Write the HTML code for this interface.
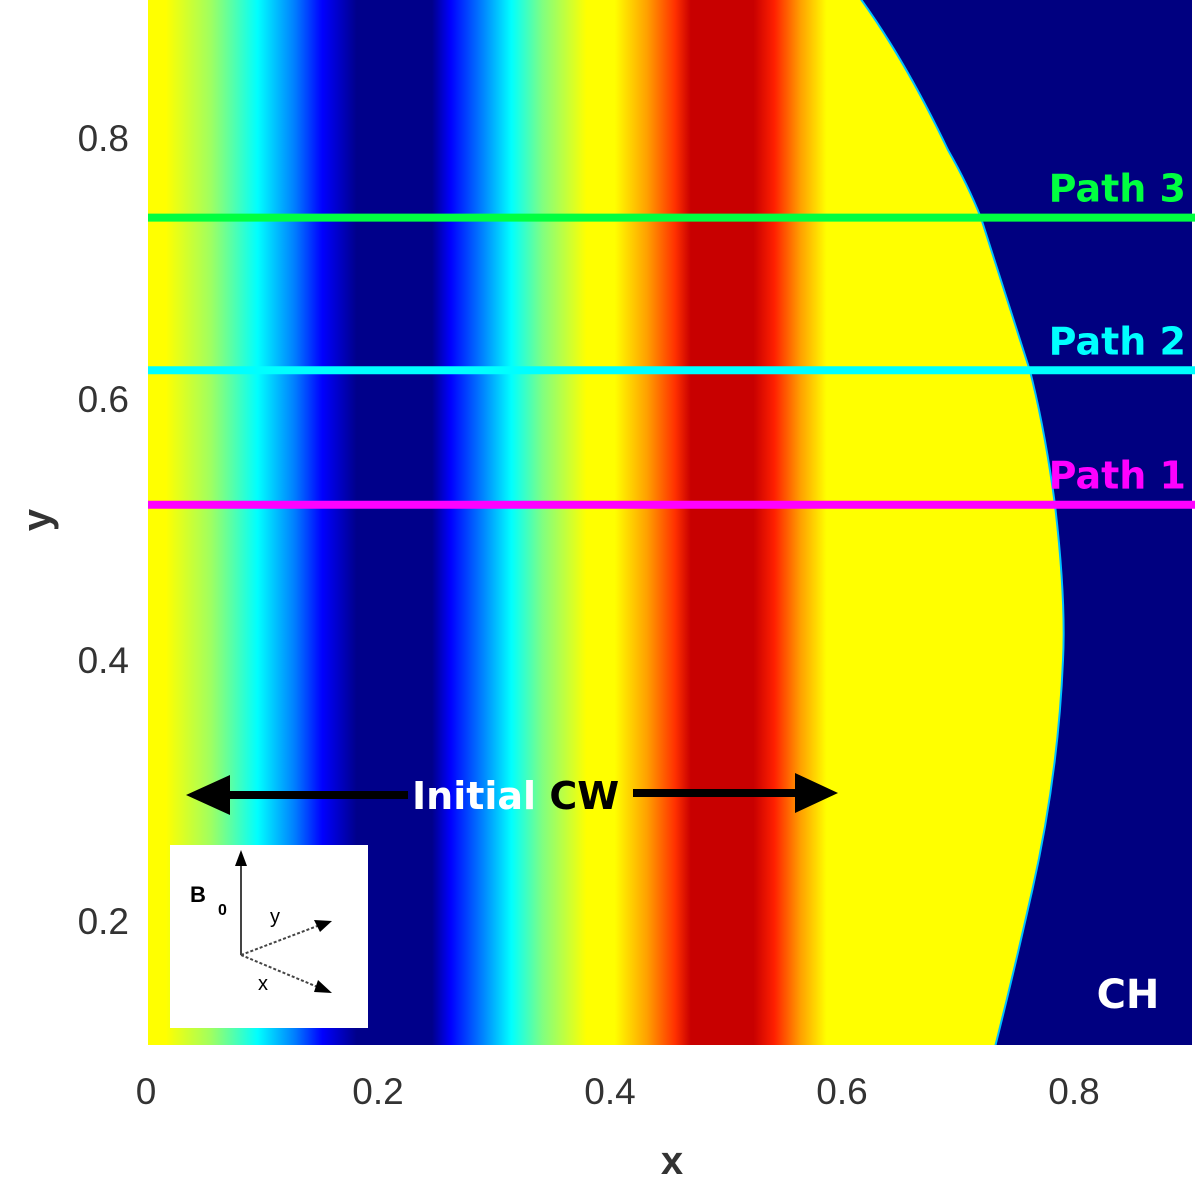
<!DOCTYPE html>
<html><head><meta charset="utf-8"><style>
html,body{margin:0;padding:0;background:#fff;}
svg{display:block;font-family:"Liberation Sans",sans-serif;}
</style></head><body>
<svg id="chart" width="1200" height="1179" viewBox="0 0 1200 1179">
<defs>
<linearGradient id="cw" gradientUnits="userSpaceOnUse" x1="148" y1="0" x2="1192" y2="0">
<stop offset="0" stop-color="#ffff00"/>
<stop offset="0.017" stop-color="#ffff00"/>
<stop offset="0.06" stop-color="#a0ff60"/>
<stop offset="0.105" stop-color="#00ffff"/>
<stop offset="0.14" stop-color="#0080ff"/>
<stop offset="0.167" stop-color="#0000ff"/>
<stop offset="0.2" stop-color="#00008a"/>
<stop offset="0.272" stop-color="#00008a"/>
<stop offset="0.29" stop-color="#0000ff"/>
<stop offset="0.32" stop-color="#0080ff"/>
<stop offset="0.348" stop-color="#00ffff"/>
<stop offset="0.378" stop-color="#80ff80"/>
<stop offset="0.42" stop-color="#ffff00"/>
<stop offset="0.447" stop-color="#ffff00"/>
<stop offset="0.478" stop-color="#ffa000"/>
<stop offset="0.505" stop-color="#ff3000"/>
<stop offset="0.52" stop-color="#c80000"/>
<stop offset="0.58" stop-color="#c80000"/>
<stop offset="0.6" stop-color="#ff2000"/>
<stop offset="0.625" stop-color="#ffa000"/>
<stop offset="0.65" stop-color="#ffff00"/>
<stop offset="1" stop-color="#ffff00"/>
</linearGradient>
<clipPath id="plotclip"><rect x="148" y="0" width="1044" height="1045"/></clipPath>
</defs>
<g clip-path="url(#plotclip)">
<rect x="148" y="0" width="1044" height="1045" fill="url(#cw)"/>
<path d="M860,-2 Q905,60 948,150 Q968,185 981,218 L1030,371 Q1045,430 1055,505 Q1066,600 1063,660 Q1058,780 1030,900 Q1012,980 995,1047 L1200,1047 L1200,-2 Z" fill="#000080" stroke="#00c0ff" stroke-width="2"/>
</g>
<g id="paths"></g>
<text x="1128" y="1008" font-size="40" font-weight="bold" fill="#fff" text-anchor="middle" font-family="DejaVu Sans, sans-serif">CH</text>
<g>
<line x1="215" y1="795" x2="408" y2="795" stroke="#000" stroke-width="8"/>
<polygon points="186,795 230,775 230,815" fill="#000"/>
<line x1="633" y1="793" x2="800" y2="793" stroke="#000" stroke-width="8"/>
<polygon points="838,793 795,773 795,813" fill="#000"/>
<text x="412" y="809" font-size="38" font-weight="bold" font-family="DejaVu Sans, sans-serif"><tspan fill="#fff">Initial </tspan><tspan fill="#000">CW</tspan></text>
</g>
<g>
<rect x="170" y="845" width="198" height="183" fill="#fff"/>
<line x1="241" y1="955" x2="241" y2="858" stroke="#444" stroke-width="2"/>
<polygon points="241,850 235,866 247,866" fill="#000"/>
<line x1="241" y1="955" x2="320" y2="925" stroke="#444" stroke-width="2" stroke-dasharray="3,2"/>
<polygon points="332,921 314,920 320,932" fill="#000"/>
<line x1="241" y1="955" x2="320" y2="988" stroke="#444" stroke-width="2" stroke-dasharray="3,2"/>
<polygon points="332,993 318,980 314,992" fill="#000"/>
<text x="190" y="902" font-size="22" font-weight="bold">B</text>
<text x="218" y="915" font-size="16" font-weight="bold">0</text>
<text x="270" y="923" font-size="20">y</text>
<text x="258" y="990" font-size="20">x</text>
</g>
<g id="axes"></g>
<text x="672" y="1174" font-size="40" font-weight="bold" fill="#333" text-anchor="middle">x</text>
<text transform="translate(50,520) rotate(-90)" font-size="40" font-weight="bold" fill="#333" text-anchor="middle">y</text>
</svg>
<script>
const xTicks = [0, 0.2, 0.4, 0.6, 0.8];
const xTickLabels = ["0", "0.2", "0.4", "0.6", "0.8"];
const yTicks = [0.2, 0.4, 0.6, 0.8];
const yTickLabels = ["0.2", "0.4", "0.6", "0.8"];
const pathNames = ["Path 1", "Path 2", "Path 3"];
const pathY = [0.519, 0.622, 0.739];
const pathColors = ["#ff00ff", "#00ffff", "#00ff40"];
const NS = "http://www.w3.org/2000/svg";
function sx(v){ return 148 + v * 1160; }
function sy(v){ return 138 + (0.8 - v) * 1305; }
const axes = document.getElementById('axes');
xTicks.forEach((v, i) => {
  const t = document.createElementNS(NS, 'text');
  t.setAttribute('x', sx(v) - 2); t.setAttribute('y', 1104);
  t.setAttribute('font-size', '37'); t.setAttribute('fill', '#333');
  t.setAttribute('text-anchor', 'middle');
  t.textContent = xTickLabels[i];
  
  
  axes.appendChild(t);
});
yTicks.forEach((v, i) => {
  const t = document.createElementNS(NS, 'text');
  t.setAttribute('x', 129); t.setAttribute('y', sy(v) + 13);
  t.setAttribute('font-size', '37'); t.setAttribute('fill', '#333');
  t.setAttribute('text-anchor', 'end');
  t.textContent = yTickLabels[i];
  
  
  axes.appendChild(t);
});
const pg = document.getElementById('paths');
pathNames.forEach((n, i) => {
  const y = sy(pathY[i]);
  const l = document.createElementNS(NS, 'line');
  l.setAttribute('x1', 148); l.setAttribute('x2', 1195);
  l.setAttribute('y1', y); l.setAttribute('y2', y);
  l.setAttribute('stroke', pathColors[i]); l.setAttribute('stroke-width', '8');
  
  
  pg.appendChild(l);
  const t = document.createElementNS(NS, 'text');
  t.setAttribute('x', 1186); t.setAttribute('y', y - 16);
  t.setAttribute('font-size', '38'); t.setAttribute('font-weight', 'bold');
  t.setAttribute('font-family', 'DejaVu Sans, sans-serif');
  t.setAttribute('fill', pathColors[i]); t.setAttribute('text-anchor', 'end');
  t.textContent = n;
  
  
  pg.appendChild(t);
});
</script>
</body></html>
